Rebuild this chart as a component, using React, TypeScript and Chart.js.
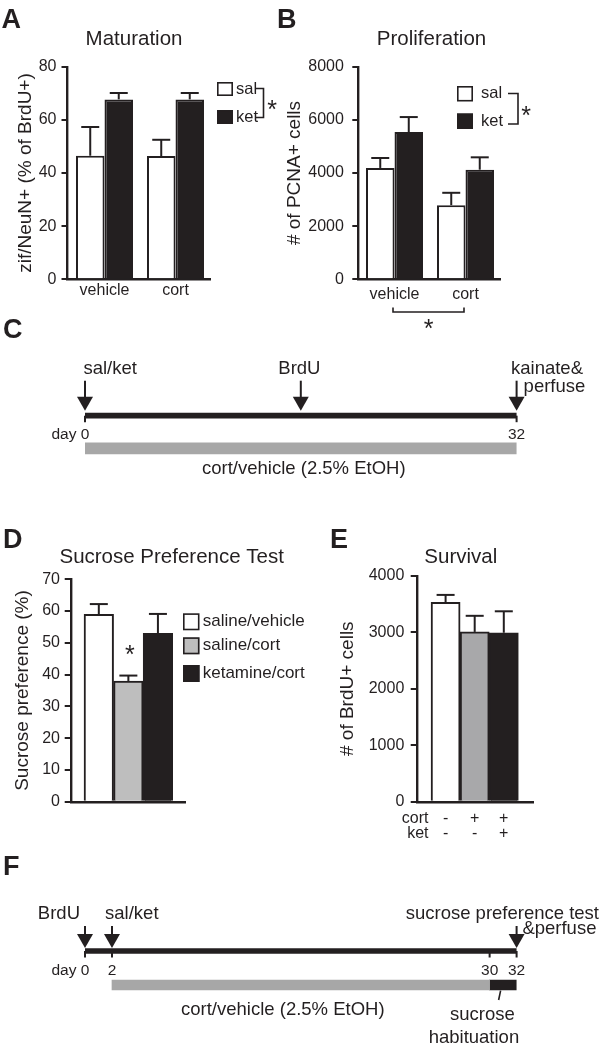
import React, { useEffect, useRef } from 'react';
import { Chart, registerables } from 'chart.js';

Chart.register(...registerables);

const FONT = '"Liberation Sans", Arial, Helvetica, sans-serif';
const INK = '#231f20';
const WHITE = '#ffffff';
const GRAY_D = '#bebebe';
const GRAY_E = '#a8a8aa';
const GRAY_T = '#a7a7a7';
const W = 600;
const H = 1051;

Chart.defaults.font.family = FONT;
Chart.defaults.color = INK;

// ---------------- data ----------------
// A: Maturation
const A_GROUPS = ['vehicle', 'cort'];
const A_SERIES = ['sal', 'ket'];
const A_SAL = [46.5, 46.4];
const A_SAL_SEM = [10.8, 6.1];
const A_KET = [67.7, 67.7];
const A_KET_SEM = [2.4, 2.4];
const A_Y_TICKS = [0, 20, 40, 60, 80];

// B: Proliferation
const B_GROUPS = ['vehicle', 'cort'];
const B_SERIES = ['sal', 'ket'];
const B_SAL = [4190, 2790];
const B_SAL_SEM = [375, 465];
const B_KET = [5540, 4125];
const B_KET_SEM = [565, 465];
const B_Y_TICKS = [0, 2000, 4000, 6000, 8000];

// D: Sucrose preference
const D_GROUPS = ['saline/vehicle', 'saline/cort', 'ketamine/cort'];
const D_VALUES = [59, 38, 53];
const D_SEM = [3.2, 1.7, 6.1];
const D_Y_TICKS = [0, 10, 20, 30, 40, 50, 60, 70];

// E: Survival
const E_ROWS = ['cort', 'ket'];
const E_CORT = ['-', '+', '+'];
const E_KET = ['-', '-', '+'];
const E_VALUES = [3530, 3005, 2990];
const E_SEM = [130, 285, 380];
const E_Y_TICKS = [0, 1000, 2000, 3000, 4000];

// C: timeline
const C_EVENTS = ['sal/ket', 'BrdU', 'kainate&\nperfuse'];
const C_EVENT_DAYS = [0, 16, 32];
const C_TICK_DAYS = [0, 32];
const C_TICK_LABELS = ['day 0', '32'];
const C_TIMELINE = [0, 32];
const C_TREATMENT = [0, 32];
const C_TREATMENT_LABEL = 'cort/vehicle (2.5% EtOH)';

// F: timeline
const F_EVENTS = ['BrdU', 'sal/ket', 'sucrose preference test\n&perfuse'];
const F_EVENT_DAYS = [0, 2, 32];
const F_TICK_DAYS = [0, 2, 30, 32];
const F_TICK_LABELS = ['day 0', '2', '30', '32'];
const F_TIMELINE = [0, 32];
const F_TREATMENT = [2, 30];
const F_HABITUATION = [30, 32];
const F_TREATMENT_LABEL = 'cort/vehicle (2.5% EtOH)';
const F_HABITUATION_LABEL = ['sucrose', 'habituation'];

// ---------------- helpers ----------------
type Ctx = CanvasRenderingContext2D;

function text(
  ctx: Ctx, s: string, x: number, y: number, size: number,
  align: CanvasTextAlign = 'left', bold = false, baseline: CanvasTextBaseline = 'alphabetic'
) {
  ctx.save();
  ctx.font = `${bold ? 'bold ' : ''}${size}px ${FONT}`;
  ctx.fillStyle = INK;
  ctx.textAlign = align;
  ctx.textBaseline = baseline;
  ctx.fillText(s, x, y);
  ctx.restore();
}

function polyline(ctx: Ctx, pts: number[][], width = 2) {
  ctx.save();
  ctx.strokeStyle = INK;
  ctx.lineWidth = width;
  ctx.lineCap = 'butt';
  ctx.lineJoin = 'miter';
  ctx.beginPath();
  pts.forEach(([x, y], i) => (i ? ctx.lineTo(x, y) : ctx.moveTo(x, y)));
  ctx.stroke();
  ctx.restore();
}

function asterisk(ctx: Ctx, cx: number, cy: number, size = 25) {
  text(ctx, '*', cx, cy + size * 0.57, size, 'center');
}

function legendBox(ctx: Ctx, x: number, y: number, w: number, h: number, fill: string) {
  ctx.save();
  ctx.fillStyle = fill;
  ctx.fillRect(x, y, w, h);
  ctx.strokeStyle = INK;
  ctx.lineWidth = 1.6;
  ctx.strokeRect(x + 0.8, y + 0.8, w - 1.6, h - 1.6);
  ctx.restore();
}

const errorBarPlugin = {
  id: 'errorBars',
  afterDatasetsDraw(chart: any) {
    const ctx: Ctx = chart.ctx;
    const ys = chart.scales.y;
    chart.data.datasets.forEach((ds: any, di: number) => {
      if (!ds.errors) return;
      const meta = chart.getDatasetMeta(di);
      meta.data.forEach((el: any, j: number) => {
        const top = ys.getPixelForValue(ds.data[j].y + ds.errors[j]);
        const half = 9;
        polyline(ctx, [[el.x, el.y], [el.x, top]], 2);
        polyline(ctx, [[el.x - half, top], [el.x + half, top]], 2);
      });
    });
  },
};

const AXIS_W = 2.4;
const TITLE_SIZE = 19;

interface BarSpec {
  area: { left: number; right: number; top: number; bottom: number };
  xRange: [number, number];
  xCount: number;
  xLabels: (string | string[])[] | null;
  xPad: number;
  xLineHeight: number;
  xHeight: number;
  yRange: [number, number];
  yTicks: number[];
  yTitle: string;
  yTitleX: number;
  yTickPad: number;
  categoryPercentage: number;
  datasets: any[];
  decorate: (chart: any) => void;
}

function barConfig(s: BarSpec): any {
  const axisLeft = s.yTitleX - TITLE_SIZE / 2;
  return {
    type: 'bar',
    data: { datasets: s.datasets },
    options: {
      animation: false,
      responsive: false,
      events: [],
      layout: {
        padding: {
          left: axisLeft,
          right: W - s.area.right,
          top: s.area.top,
          bottom: H - s.area.bottom - s.xHeight,
        },
      },
      plugins: { legend: { display: false }, tooltip: { enabled: false }, title: { display: false } },
      datasets: { bar: { categoryPercentage: s.categoryPercentage, barPercentage: 1 } },
      scales: {
        x: {
          type: 'linear',
          min: s.xRange[0],
          max: s.xRange[1],
          bounds: 'data',
          offset: false,
          grid: { display: false, drawTicks: false, offset: false },
          border: { display: true, color: INK, width: AXIS_W },
          afterBuildTicks: (sc: any) => {
            sc.ticks = Array.from({ length: s.xCount }, (_, i) => ({ value: i }));
          },
          afterFit: (sc: any) => {
            sc.height = s.xHeight;
          },
          ticks: {
            display: !!s.xLabels,
            autoSkip: false,
            maxRotation: 0,
            minRotation: 0,
            padding: s.xPad,
            color: INK,
            font: { size: 16, lineHeight: s.xLineHeight },
            callback: (_v: any, i: number) => (s.xLabels ? s.xLabels[i] : ''),
          },
        },
        y: {
          type: 'linear',
          min: s.yRange[0],
          max: s.yRange[1],
          afterBuildTicks: (sc: any) => {
            sc.ticks = s.yTicks.map((v) => ({ value: v }));
          },
          afterFit: (sc: any) => {
            sc.width = s.area.left - axisLeft;
          },
          grid: { display: true, drawOnChartArea: false, drawTicks: true, tickLength: 6, color: INK, lineWidth: 2 },
          border: { display: true, color: INK, width: AXIS_W },
          ticks: { padding: s.yTickPad, color: INK, font: { size: 16 }, callback: (v: any) => String(v) },
          title: { display: true, text: s.yTitle, color: INK, padding: 0, font: { size: TITLE_SIZE, lineHeight: 1 } },
        },
      },
    },
    plugins: [errorBarPlugin, { id: 'decor', afterDraw: s.decorate }],
  };
}

function pairLegend(
  ctx: Ctx, chart: any,
  o: { x: number; ys: number[]; w: number; h: number; textX: number; size: number; names: string[];
       bracketX: number; bracketTick: number; bracketYs: number[]; star: number[] }
) {
  o.names.forEach((n, i) => {
    legendBox(ctx, o.x, o.ys[i], o.w, o.h, chart.data.datasets[i].backgroundColor);
    text(ctx, n, o.textX, o.ys[i] + o.h / 2, o.size, 'left', false, 'middle');
  });
  polyline(ctx, [
    [o.bracketTick, o.bracketYs[0]], [o.bracketX, o.bracketYs[0]],
    [o.bracketX, o.bracketYs[1]], [o.bracketTick, o.bracketYs[1]],
  ], 1.6);
  asterisk(ctx, o.star[0], o.star[1]);
}

const toXY = (vals: number[]) => vals.map((v, i) => ({ x: i, y: v }));

// ---------------- panel configs ----------------
const makeA = () =>
  barConfig({
    area: { left: 67.5, right: 210, top: 66.7, bottom: 279.3 },
    xRange: [-0.521, 1.486],
    xCount: A_GROUPS.length,
    xLabels: A_GROUPS,
    xPad: 2,
    xLineHeight: 1.2,
    xHeight: 40,
    yRange: [0, 80],
    yTicks: A_Y_TICKS,
    yTitle: 'zif/NeuN+ (% of BrdU+)',
    yTitleX: 26,
    yTickPad: 5,
    categoryPercentage: 0.803,
    datasets: [
      { label: A_SERIES[0], data: toXY(A_SAL), errors: A_SAL_SEM, backgroundColor: WHITE, borderColor: INK, borderWidth: 2 },
      { label: A_SERIES[1], data: toXY(A_KET), errors: A_KET_SEM, backgroundColor: INK, borderColor: INK, borderWidth: 2 },
    ],
    decorate: (chart: any) => {
      const ctx: Ctx = chart.ctx;
      text(ctx, 'A', 1.5, 28, 27, 'left', true);
      text(ctx, 'Maturation', 134, 45, 20.5, 'center');
      pairLegend(ctx, chart, {
        x: 217, ys: [82, 110], w: 16, h: 14, textX: 236, size: 16.5, names: A_SERIES,
        bracketX: 263.5, bracketTick: 255, bracketYs: [88.5, 117.5], star: [272, 104],
      });
    },
  });

const makeB = () =>
  barConfig({
    area: { left: 358.3, right: 500, top: 66.7, bottom: 279.3 },
    xRange: [-0.51, 1.486],
    xCount: B_GROUPS.length,
    xLabels: B_GROUPS,
    xPad: 6,
    xLineHeight: 1.2,
    xHeight: 60,
    yRange: [0, 8000],
    yTicks: B_Y_TICKS,
    yTitle: '# of PCNA+ cells',
    yTitleX: 295,
    yTickPad: 8.4,
    categoryPercentage: 0.803,
    datasets: [
      { label: B_SERIES[0], data: toXY(B_SAL), errors: B_SAL_SEM, backgroundColor: WHITE, borderColor: INK, borderWidth: 2 },
      { label: B_SERIES[1], data: toXY(B_KET), errors: B_KET_SEM, backgroundColor: INK, borderColor: INK, borderWidth: 2 },
    ],
    decorate: (chart: any) => {
      const ctx: Ctx = chart.ctx;
      text(ctx, 'B', 277, 28, 27, 'left', true);
      text(ctx, 'Proliferation', 431.5, 45, 20.5, 'center');
      pairLegend(ctx, chart, {
        x: 457, ys: [86, 113.5], w: 16, h: 15.5, textX: 481, size: 16.5, names: B_SERIES,
        bracketX: 518, bracketTick: 508, bracketYs: [93.5, 124], star: [526, 110],
      });
      const xs = chart.scales.x;
      const l = xs.getPixelForValue(0) - 1.5;
      const r = xs.getPixelForValue(1) - 1.5;
      polyline(ctx, [[l, 307.5], [l, 312], [r, 312], [r, 307.5]], 1.6);
      asterisk(ctx, (l + r) / 2, 322.5);
    },
  });

const makeD = () =>
  barConfig({
    area: { left: 70.7, right: 185, top: 579.3, bottom: 801.7 },
    xRange: [-0.951, 2.916],
    xCount: D_GROUPS.length,
    xLabels: null,
    xPad: 0,
    xLineHeight: 1.2,
    xHeight: 0,
    yRange: [0, 70],
    yTicks: D_Y_TICKS,
    yTitle: 'Sucrose preference (%)',
    yTitleX: 22.5,
    yTickPad: 4.7,
    categoryPercentage: 1,
    datasets: [
      {
        label: 'sucrose preference',
        data: toXY(D_VALUES),
        errors: D_SEM,
        backgroundColor: [WHITE, GRAY_D, INK],
        borderColor: INK,
        borderWidth: 2,
      },
    ],
    decorate: (chart: any) => {
      const ctx: Ctx = chart.ctx;
      text(ctx, 'D', 3, 548, 27, 'left', true);
      text(ctx, 'Sucrose Preference Test', 171.7, 563, 20.5, 'center');
      const ys = [613.3, 637.3, 665];
      D_GROUPS.forEach((g, i) => {
        legendBox(ctx, 183, ys[i], 16.5, 17, chart.data.datasets[0].backgroundColor[i]);
        text(ctx, g, 202.7, ys[i] + 8.5, 17, 'left', false, 'middle');
      });
      const el = chart.getDatasetMeta(0).data[1];
      const top = chart.scales.y.getPixelForValue(D_VALUES[1] + D_SEM[1]);
      asterisk(ctx, el.x + 1.5, top - 26.6);
    },
  });

const E_X_PAD = 9.3;
const E_X_LH = 15;
const makeE = () =>
  barConfig({
    area: { left: 416.7, right: 533.3, top: 575.7, bottom: 801.7 },
    xRange: [-0.993, 3.014],
    xCount: E_VALUES.length,
    xLabels: E_CORT.map((c, i) => [c, E_KET[i]]),
    xPad: E_X_PAD,
    xLineHeight: E_X_LH / 16,
    xHeight: 45,
    yRange: [0, 4000],
    yTicks: E_Y_TICKS,
    yTitle: '# of BrdU+ cells',
    yTitleX: 348,
    yTickPad: 6.4,
    categoryPercentage: 1,
    datasets: [
      {
        label: 'survival',
        data: toXY(E_VALUES),
        errors: E_SEM,
        backgroundColor: [WHITE, GRAY_E, INK],
        borderColor: INK,
        borderWidth: 2,
      },
    ],
    decorate: (chart: any) => {
      const ctx: Ctx = chart.ctx;
      text(ctx, 'E', 330, 548, 27, 'left', true);
      text(ctx, 'Survival', 460.8, 563, 20.5, 'center');
      const xs = chart.scales.x;
      const y0 = xs.top + E_X_PAD;
      E_ROWS.forEach((r, k) => {
        text(ctx, r, 428.5, y0 + E_X_LH / 2 + k * E_X_LH, 16, 'right', false, 'middle');
      });
    },
  });

// ---------------- timelines ----------------
interface EventLine { align: CanvasTextAlign; dx: number; dy: number }
interface TimelineSpec {
  letter: string;
  letterPos: number[];
  dayRange: [number, number];
  pxRange: [number, number];
  rowTop: number;
  rowBottom: number;
  datasets: any[];
  events: string[];
  eventDays: number[];
  eventLayout: EventLine[][];
  arrow: { shaftTop: number; headBase: number; tip: number; half: number };
  tickDays: number[];
  tickLabels: string[];
  tickDy: number;
  extra: (chart: any, ctx: Ctx, lineY: number, row1: number) => void;
}

const TL_SIZE = 18.5;
const TICK_SIZE = 15.5;

function timelineConfig(s: TimelineSpec): any {
  return {
    type: 'bar',
    data: { labels: ['timeline', 'treatment'], datasets: s.datasets },
    options: {
      indexAxis: 'y',
      animation: false,
      responsive: false,
      events: [],
      layout: { padding: { left: s.pxRange[0], right: W - s.pxRange[1], top: s.rowTop, bottom: H - s.rowBottom } },
      plugins: { legend: { display: false }, tooltip: { enabled: false } },
      scales: {
        x: { type: 'linear', min: s.dayRange[0], max: s.dayRange[1], display: false },
        y: { type: 'category', display: false, offset: true },
      },
    },
    plugins: [
      {
        id: 'timelineDecor',
        afterDraw(chart: any) {
          const ctx: Ctx = chart.ctx;
          const xs = chart.scales.x;
          const ys = chart.scales.y;
          const lineY = ys.getPixelForValue(0);
          const row1 = ys.getPixelForValue(1);
          text(ctx, s.letter, s.letterPos[0], s.letterPos[1], 27, 'left', true);
          // tick marks + labels
          s.tickDays.forEach((d, i) => {
            const px = xs.getPixelForValue(d);
            polyline(ctx, [[px, lineY], [px, lineY + 6.5]], 2);
            ctx.save();
            ctx.font = `${TICK_SIZE}px ${FONT}`;
            const words = s.tickLabels[i].split(' ');
            const lastW = ctx.measureText(words[words.length - 1]).width;
            ctx.restore();
            text(ctx, s.tickLabels[i], px + lastW / 2, lineY + s.tickDy, TICK_SIZE, 'right');
          });
          // event arrows + labels
          s.eventDays.forEach((d, i) => {
            const px = xs.getPixelForValue(d);
            const a = s.arrow;
            polyline(ctx, [[px, lineY + a.shaftTop], [px, lineY + a.headBase + 1]], 2);
            ctx.save();
            ctx.fillStyle = INK;
            ctx.beginPath();
            ctx.moveTo(px - a.half, lineY + a.headBase);
            ctx.lineTo(px + a.half, lineY + a.headBase);
            ctx.lineTo(px, lineY + a.tip);
            ctx.closePath();
            ctx.fill();
            ctx.restore();
            s.events[i].split('\n').forEach((ln, k) => {
              const L = s.eventLayout[i][k];
              text(ctx, ln, px + L.dx, lineY + L.dy, TL_SIZE, L.align);
            });
          });
          s.extra(chart, ctx, lineY, row1);
        },
      },
    ],
  };
}

const makeC = () =>
  timelineConfig({
    letter: 'C',
    letterPos: [3, 338],
    dayRange: [0, 32],
    pxRange: [85, 516.6],
    rowTop: 399.4,
    rowBottom: 464.6,
    datasets: [
      { label: 'timeline', data: [C_TIMELINE, null], backgroundColor: INK, barThickness: 5, grouped: false, borderWidth: 0 },
      { label: 'cort/vehicle', data: [null, C_TREATMENT], backgroundColor: GRAY_T, barThickness: 11, grouped: false, borderWidth: 0 },
    ],
    events: C_EVENTS,
    eventDays: C_EVENT_DAYS,
    eventLayout: [
      [{ align: 'left', dx: -1.6, dy: -41.7 }],
      [{ align: 'center', dx: -1.4, dy: -41.7 }],
      [{ align: 'left', dx: -5.6, dy: -41.7 }, { align: 'left', dx: 7, dy: -24 }],
    ],
    arrow: { shaftTop: -35, headBase: -19, tip: -5, half: 8 },
    tickDays: C_TICK_DAYS,
    tickLabels: C_TICK_LABELS,
    tickDy: 23.6,
    extra: (chart, ctx, _lineY, row1) => {
      const xs = chart.scales.x;
      const mid = xs.getPixelForValue((C_TREATMENT[0] + C_TREATMENT[1]) / 2);
      text(ctx, C_TREATMENT_LABEL, mid + 3, row1 + 25.7, TL_SIZE, 'center');
    },
  });

const makeF = () =>
  timelineConfig({
    letter: 'F',
    letterPos: [3, 875],
    dayRange: [0, 32],
    pxRange: [85, 516.6],
    rowTop: 934,
    rowBottom: 1002,
    datasets: [
      { label: 'timeline', data: [F_TIMELINE, null], backgroundColor: INK, barThickness: 5, grouped: false, borderWidth: 0 },
      { label: 'cort/vehicle', data: [null, F_TREATMENT], backgroundColor: GRAY_T, barThickness: 10, grouped: false, borderWidth: 0 },
      { label: 'sucrose habituation', data: [null, F_HABITUATION], backgroundColor: INK, barThickness: 10, grouped: false, borderWidth: 0 },
    ],
    events: F_EVENTS,
    eventDays: F_EVENT_DAYS,
    eventLayout: [
      [{ align: 'right', dx: -5, dy: -32 }],
      [{ align: 'left', dx: -6.9, dy: -32 }],
      [{ align: 'right', dx: 82.4, dy: -32 }, { align: 'left', dx: 5.8, dy: -17 }],
    ],
    arrow: { shaftTop: -25, headBase: -17, tip: -3, half: 8 },
    tickDays: F_TICK_DAYS,
    tickLabels: F_TICK_LABELS,
    tickDy: 24,
    extra: (chart, ctx, _lineY, row1) => {
      const xs = chart.scales.x;
      const mid = xs.getPixelForValue((F_TREATMENT[0] + F_TREATMENT[1]) / 2);
      text(ctx, F_TREATMENT_LABEL, mid - 18, row1 + 30, TL_SIZE, 'center');
      const hab = xs.getPixelForValue((F_HABITUATION[0] + F_HABITUATION[1]) / 2);
      polyline(ctx, [[hab - 2.5, row1 + 5.7], [hab - 4.5, row1 + 15]], 1.6);
      text(ctx, F_HABITUATION_LABEL[0], hab - 20.7, row1 + 35, TL_SIZE, 'center');
      text(ctx, F_HABITUATION_LABEL[1], hab - 29.2, row1 + 58, TL_SIZE, 'center');
    },
  });

const MAKERS = [makeA, makeB, makeC, makeD, makeE, makeF];

function ChartCanvas({ make }: { make: () => any }) {
  const ref = useRef<HTMLCanvasElement | null>(null);
  useEffect(() => {
    if (!ref.current) return;
    const chart = new Chart(ref.current, make());
    return () => chart.destroy();
  }, [make]);
  return (
    <canvas
      ref={ref}
      width={W}
      height={H}
      style={{ position: 'absolute', left: 0, top: 0, width: W, height: H }}
    />
  );
}

export default function App() {
  return (
    <div style={{ position: 'absolute', left: 0, top: 0, width: W, height: H, background: '#fff', overflow: 'hidden' }}>
      {MAKERS.map((m, i) => (
        <ChartCanvas key={i} make={m} />
      ))}
    </div>
  );
}
